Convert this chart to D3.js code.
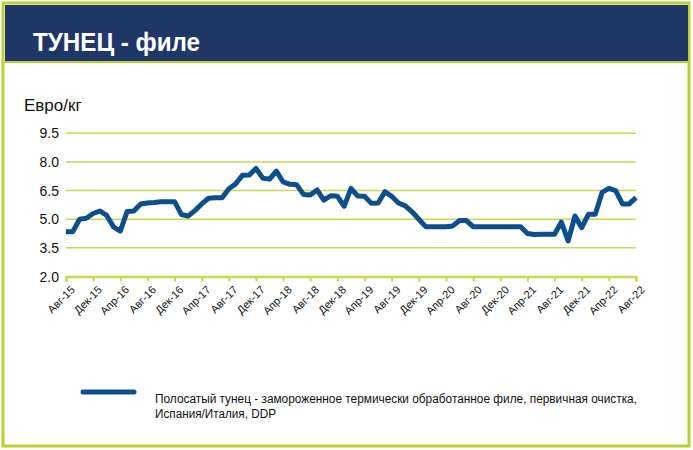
<!DOCTYPE html>
<html>
<head>
<meta charset="utf-8">
<script src="https://cdn.jsdelivr.net/npm/d3@7"></script>
<style>
    body { margin: 0; background: #fff; }
    svg { display: block; }
</style>
</head>
<body>
<svg id="chart" width="693" height="450"></svg>
<script>
// monthly prices, Aug-15 .. Aug-22 (euro per kg)
var months = d3.range(85);

var prices = [
    4.35, 4.35, 5.0, 5.05, 5.3, 5.43, 5.2, 4.6, 4.38, 5.4,
    5.43, 5.8, 5.85, 5.88, 5.92, 5.92, 5.92, 5.25, 5.17, 5.45,
    5.8, 6.1, 6.13, 6.13, 6.6, 6.85, 7.3, 7.31, 7.66, 7.15,
    7.1, 7.52, 6.95, 6.83, 6.8, 6.3, 6.27, 6.53, 6.0, 6.23,
    6.2, 5.68, 6.62, 6.21, 6.2, 5.83, 5.85, 6.44, 6.2, 5.85,
    5.7, 5.39, 5.0, 4.61, 4.61, 4.61, 4.61, 4.65, 4.93, 4.93,
    4.61, 4.61, 4.61, 4.61, 4.61, 4.61, 4.61, 4.61, 4.25, 4.2,
    4.21, 4.21, 4.21, 4.85, 3.86, 5.17, 4.56, 5.26, 5.26, 6.4,
    6.62, 6.5, 5.8, 5.8, 6.13
];

var tickLabels = [
    "Авг-15", "Дек-15", "Апр-16", "Авг-16", "Дек-16", "Апр-17", "Авг-17", "Дек-17",
    "Апр-18", "Авг-18", "Дек-18", "Апр-19", "Авг-19", "Дек-19", "Апр-20", "Авг-20",
    "Дек-20", "Апр-21", "Авг-21", "Дек-21", "Апр-22", "Авг-22"
];

var yTicks = [2.0, 3.5, 5.0, 6.5, 8.0, 9.5];

var seriesName = ["Полосатый тунец - замороженное термически обработанное филе, первичная очистка,",
                  "Испания/Италия, DDP"];

var green = "#bccf2e";
var gridGreen = "#c9d84f";
var navy = "#1f3868";
var lineBlue = "#0d4f8c";

var svg = d3.select("#chart");

// frame and title banner
svg.append("rect").attr("x", 3).attr("y", 3).attr("width", 686).attr("height", 443)
    .attr("fill", "#fff").attr("stroke", green).attr("stroke-width", 3);
svg.append("rect").attr("x", 5).attr("y", 5).attr("width", 683).attr("height", 56)
    .attr("fill", navy);
svg.append("line").attr("x1", 4).attr("x2", 689).attr("y1", 62).attr("y2", 62)
    .attr("stroke", green).attr("stroke-width", 2);

svg.append("text").attr("x", 33).attr("y", 51)
    .attr("fill", "#fff")
    .attr("textLength", 167).attr("lengthAdjust", "spacingAndGlyphs")
    .style("font-family", "'Liberation Sans', Arial, sans-serif")
    .style("font-size", "25px").style("font-weight", "bold")
    .text("ТУНЕЦ - филе");

var x = d3.scaleLinear().domain([0, 84]).range([66, 636]);
var y = d3.scaleLinear().domain([2, 9.5]).range([276.5, 133.3]);

// gridlines
svg.append("g").selectAll("line")
    .data(yTicks.filter(d => d > 2))
    .enter().append("line")
    .attr("x1", x(0)).attr("x2", x(84))
    .attr("y1", d => y(d)).attr("y2", d => y(d))
    .attr("stroke", gridGreen).attr("stroke-width", 1.5);

// y labels
svg.append("g").selectAll("text")
    .data(yTicks)
    .enter().append("text")
    .attr("x", 59).attr("y", d => y(d) + 5)
    .attr("text-anchor", "end")
    .style("font-family", "'Liberation Sans', Arial, sans-serif")
    .style("font-size", "14px").attr("fill", "#111")
    .text(d => d.toFixed(1));

svg.append("text").attr("x", 24).attr("y", 111)
    .style("font-family", "'Liberation Sans', Arial, sans-serif")
    .style("font-size", "17px").attr("fill", "#111")
    .text("Евро/кг");

// x axis
var tickIdx = tickLabels.map((d, i) => i * 4);

var xAxis = d3.axisBottom(x)
    .tickValues(tickIdx)
    .tickSize(5)
    .tickFormat((d, i) => tickLabels[i]);

var gx = svg.append("g").attr("transform", "translate(0," + y(2) + ")").call(xAxis);
gx.select(".domain").attr("stroke", gridGreen).attr("stroke-width", 2.5);
gx.selectAll(".tick line").attr("stroke", gridGreen).attr("stroke-width", 2);
gx.selectAll(".tick text")
    .style("font-family", "'Liberation Sans', Arial, sans-serif")
    .style("font-size", "11px").attr("fill", "#111")
    .attr("text-anchor", "end")
    .attr("dy", null).attr("y", 0)
    .attr("transform", "translate(9,14) rotate(-45)");

// price line
var line = d3.line()
    .x((d, i) => x(months[i]))
    .y(d => y(d));

svg.append("path").datum(prices)
    .attr("d", line)
    .attr("fill", "none")
    .attr("stroke", lineBlue)
    .attr("stroke-width", 5)
    .attr("stroke-linejoin", "round");

// legend
svg.append("line").attr("x1", 83).attr("x2", 134).attr("y1", 392).attr("y2", 392)
    .attr("stroke", lineBlue).attr("stroke-width", 5).attr("stroke-linecap", "round");

var legendWidths = [482, 121];

svg.append("g").selectAll("text")
    .data(seriesName)
    .enter().append("text")
    .attr("x", 155).attr("y", (d, i) => 403 + i * 15)
    .attr("textLength", (d, i) => legendWidths[i]).attr("lengthAdjust", "spacingAndGlyphs")
    .style("font-family", "'Liberation Sans', Arial, sans-serif")
    .style("font-size", "12.5px").attr("fill", "#111")
    .text(d => d);
</script>
</body>
</html>
